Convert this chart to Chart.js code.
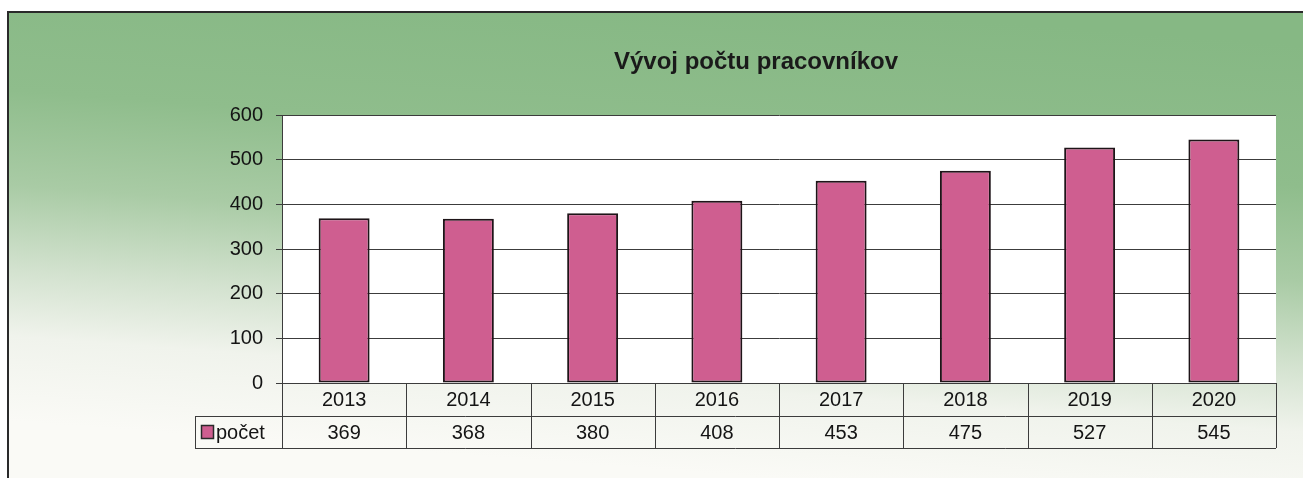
<!DOCTYPE html>
<html>
<head>
<meta charset="utf-8">
<script src="https://cdn.jsdelivr.net/npm/chart.js@4/dist/chart.umd.min.js"></script>
<style>
  html, body { margin: 0; padding: 0; background: #ffffff; }
  #wrap { width: 1303px; height: 478px; }
</style>
</head>
<body>
<div id="wrap"><canvas id="workersChart" width="1303" height="478"></canvas></div>
<script>
var years = ['2013', '2014', '2015', '2016', '2017', '2018', '2019', '2020'];
var pocet = [369, 368, 380, 408, 453, 475, 527, 545];
var yTicks = [0, 100, 200, 300, 400, 500, 600];
var seriesName = 'počet';
var chartTitle = 'Vývoj počtu pracovníkov';

var FONT = "'Liberation Sans', Arial, sans-serif";
var BAR_FILL = '#cf5e90';
var BAR_LINE = '#1e1418';
var LINE = '#3c3c3c';

/* background, frame, title and white plot area */
var backgroundPlugin = {
  id: 'bgFrame',
  beforeDraw: function (chart) {
    var ctx = chart.ctx, w = chart.width, h = chart.height, a = chart.chartArea;
    ctx.save();
    var g = ctx.createLinearGradient(700, 0, 665, 470);
    g.addColorStop(0, '#86b884');
    g.addColorStop(0.3, '#8fbd8c');
    g.addColorStop(0.5, '#a9cba5');
    g.addColorStop(0.68, '#d3e2cf');
    g.addColorStop(0.82, '#f0f3ec');
    g.addColorStop(1, '#fafaf6');
    ctx.fillStyle = g;
    ctx.fillRect(8, 12, w - 8, h - 12);
    ctx.strokeStyle = '#2a2a2a';
    ctx.lineWidth = 2;
    ctx.beginPath();
    ctx.moveTo(8, h);
    ctx.lineTo(8, 12);
    ctx.lineTo(w, 12);
    ctx.stroke();
    ctx.fillStyle = '#ffffff';
    ctx.fillRect(a.left, a.top, a.right - a.left, a.bottom - a.top);

    ctx.fillStyle = '#1a1a1a';
    ctx.font = 'bold 24px ' + FONT;
    ctx.textAlign = 'center';
    ctx.textBaseline = 'middle';
    ctx.fillText(chartTitle, 756, 62);
    ctx.restore();
  }
};

/* data table under the plot */
var dataTablePlugin = {
  id: 'dataTable',
  afterDraw: function (chart) {
    var ctx = chart.ctx, a = chart.chartArea, x = chart.scales.x;
    var row1 = a.bottom, row2 = a.bottom + 33, row3 = a.bottom + 65;
    var legendLeft = 195;
    var step = (a.right - a.left) / years.length;
    ctx.save();
    ctx.strokeStyle = LINE;
    ctx.lineWidth = 1;
    ctx.beginPath();
    ctx.moveTo(a.left, row1 + 0.5); ctx.lineTo(a.right, row1 + 0.5);
    ctx.moveTo(legendLeft, row2 + 0.5); ctx.lineTo(a.right, row2 + 0.5);
    ctx.moveTo(legendLeft, row3 + 0.5); ctx.lineTo(a.right, row3 + 0.5);
    ctx.moveTo(legendLeft + 0.5, row2); ctx.lineTo(legendLeft + 0.5, row3);
    for (var i = 0; i <= years.length; i++) {
      var vx = Math.round(a.left + i * step) + 0.5;
      ctx.moveTo(vx, row1); ctx.lineTo(vx, row3);
    }
    ctx.stroke();

    ctx.fillStyle = '#141414';
    ctx.font = '20px ' + FONT;
    ctx.textAlign = 'center';
    ctx.textBaseline = 'middle';
    years.forEach(function (yr, i) {
      var cx = x.getPixelForValue(i);
      ctx.fillText(yr, cx, (row1 + row2) / 2 + 1);
      ctx.fillText(String(pocet[i]), cx, (row2 + row3) / 2 + 1);
    });

    // legend key
    ctx.fillStyle = BAR_FILL;
    ctx.fillRect(202, row2 + 10, 11, 12);
    ctx.strokeStyle = '#2a2a2a';
    ctx.lineWidth = 1.5;
    ctx.strokeRect(201.5, row2 + 9.5, 12, 13);
    ctx.fillStyle = '#141414';
    ctx.textAlign = 'left';
    ctx.fillText(seriesName, 216, (row2 + row3) / 2 + 1);
    ctx.restore();
  }
};

new Chart(document.getElementById('workersChart'), {
  type: 'bar',
  data: {
    labels: years,
    datasets: [{
      label: seriesName,
      data: pocet,
      backgroundColor: BAR_FILL,
      borderColor: BAR_LINE,
      borderWidth: 2,
      borderSkipped: false,
      categoryPercentage: 1,
      barPercentage: 0.41
    }]
  },
  options: {
    responsive: false,
    animation: false,
    devicePixelRatio: 1,
    layout: { padding: { top: 115, left: 0, right: 27, bottom: 95 } },
    plugins: {
      legend: { display: false },
      tooltip: { enabled: false },
      title: { display: false }
    },
    scales: {
      x: { display: false },
      y: {
        min: 0,
        max: 600,
        afterFit: function (s) { s.width = 282; },
        afterBuildTicks: function (s) { s.ticks = yTicks.map(function (v) { return { value: v }; }); },
        ticks: { color: '#141414', font: { family: FONT, size: 20 }, padding: 13 },
        grid: { color: LINE, lineWidth: 1, tickLength: 6, drawTicks: true },
        border: { color: LINE, width: 1 }
      }
    }
  },
  plugins: [backgroundPlugin, dataTablePlugin]
});
</script>
</body>
</html>
